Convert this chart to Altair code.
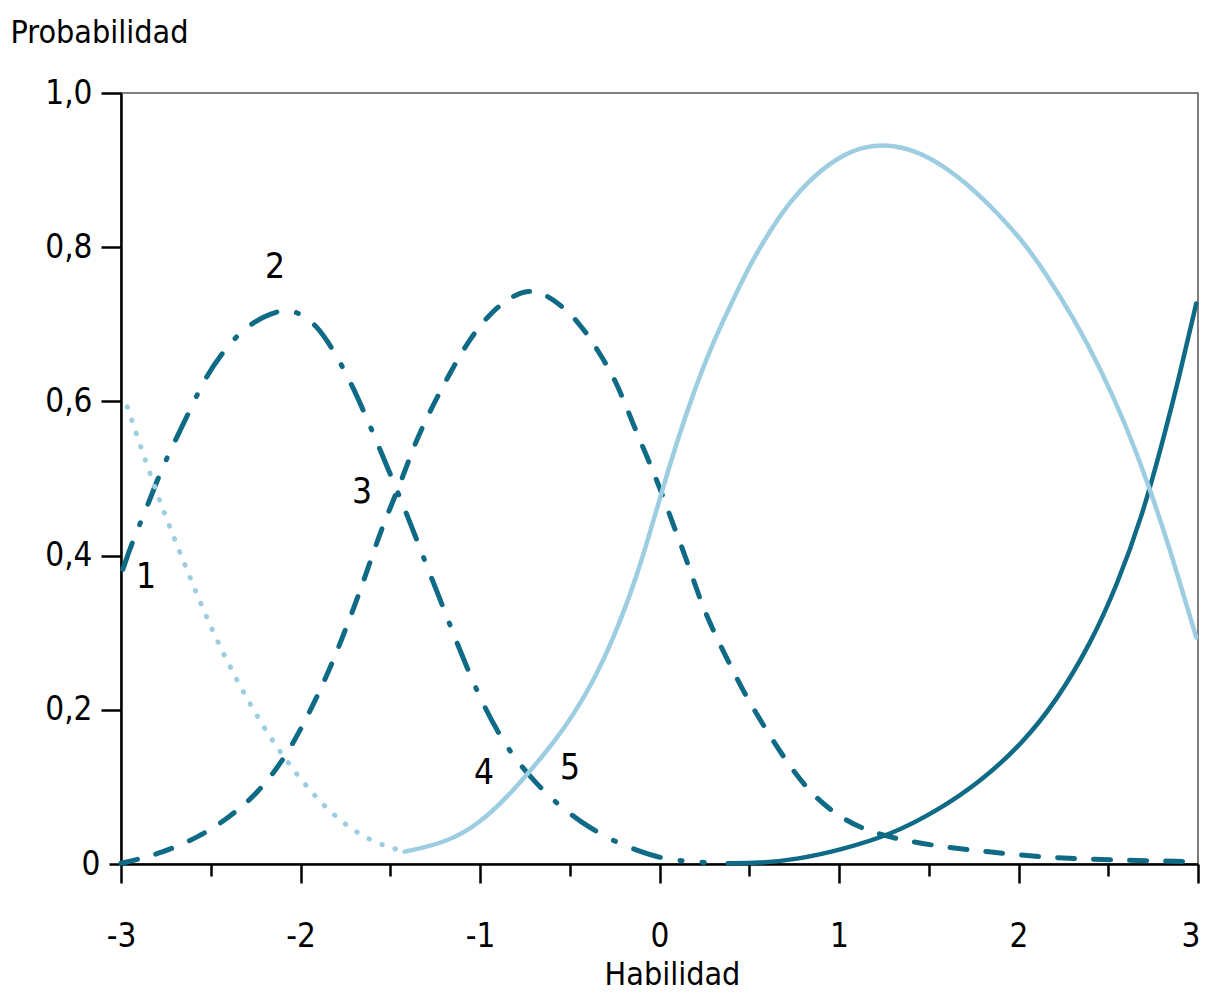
import altair as alt
import pandas as pd

FONT = "'DejaVu Sans Condensed', 'Liberation Sans Narrow', Roboto, sans-serif"
DARK = "#0f6a86"
LIGHT = "#9dcde0"

# Curve 1 (dotted, light)
c1_x = [-2.965, -2.86, -2.75, -2.63, -2.51, -2.37, -2.21, -2.03, -1.82, -1.62, -1.45]
c1_y = [0.593, 0.520, 0.449, 0.380, 0.312, 0.244, 0.178, 0.117, 0.062, 0.030, 0.018]

# Curve 2 (dash-dot, dark)
c2_x = [-2.99, -2.94, -2.86, -2.78, -2.70, -2.62, -2.53, -2.43, -2.32, -2.20, -2.10, -2.01,
        -1.91, -1.82, -1.72, -1.64, -1.57, -1.49, -1.41, -1.34, -1.26, -1.18, -1.11, -1.01,
        -0.90, -0.80, -0.70, -0.59, -0.44, -0.26, -0.13, 0.0, 0.12, 0.25]
c2_y = [0.382, 0.416, 0.460, 0.509, 0.548, 0.587, 0.631, 0.665, 0.694, 0.711, 0.719, 0.716,
        0.699, 0.668, 0.625, 0.583, 0.545, 0.500, 0.455, 0.413, 0.365, 0.318, 0.276, 0.220,
        0.170, 0.135, 0.108, 0.082, 0.054, 0.030, 0.018, 0.008, 0.004, 0.002]

# Curve 3 (dashed, dark)
c3_x = [-3.0, -2.81, -2.56, -2.39, -2.24, -2.085, -1.97, -1.85, -1.74, -1.64, -1.55, -1.45,
        -1.36, -1.26, -1.16, -1.05, -0.93, -0.80, -0.70, -0.59, -0.45, -0.34, -0.24, -0.15,
        -0.06, 0.0, 0.08, 0.16, 0.23, 0.31, 0.39, 0.48, 0.60, 0.71, 0.83, 0.98, 1.15, 1.35,
        1.58, 1.83, 2.11, 2.5, 3.0]
c3_y = [0.001, 0.011, 0.035, 0.062, 0.091, 0.138, 0.187, 0.245, 0.309, 0.372, 0.435, 0.489,
        0.548, 0.596, 0.640, 0.684, 0.718, 0.740, 0.745, 0.733, 0.704, 0.665, 0.626, 0.572,
        0.523, 0.489, 0.438, 0.389, 0.340, 0.297, 0.260, 0.218, 0.172, 0.132, 0.095, 0.064,
        0.043, 0.031, 0.022, 0.016, 0.009, 0.005, 0.003]

# Curve 4 (solid, light)
c4_x = [-1.42, -1.18, -0.99, -0.84, -0.72, -0.59, -0.47, -0.36, -0.26, -0.17, -0.09, 0.0,
        0.10, 0.195, 0.29, 0.39, 0.50, 0.62, 0.73, 0.87, 1.02, 1.15, 1.27, 1.42, 1.58, 1.73,
        1.88, 2.02, 2.15, 2.31, 2.46, 2.59, 2.73, 2.86, 2.99]
c4_y = [0.016, 0.028, 0.055, 0.089, 0.121, 0.157, 0.197, 0.241, 0.291, 0.345, 0.400, 0.473,
        0.550, 0.615, 0.672, 0.722, 0.776, 0.823, 0.860, 0.895, 0.920, 0.931, 0.933, 0.926,
        0.906, 0.879, 0.845, 0.809, 0.767, 0.707, 0.641, 0.574, 0.489, 0.396, 0.294]

# Curve 5 (solid, dark)
c5_x = [0.38, 0.55, 0.77, 1.02, 1.29, 1.54, 1.79, 2.02, 2.21, 2.40, 2.55, 2.69, 2.80, 2.90,
        2.99]
c5_y = [0.001, 0.001, 0.006, 0.019, 0.038, 0.068, 0.107, 0.156, 0.211, 0.285, 0.362, 0.452,
        0.545, 0.636, 0.727]

# Curve labels
lab_text = ["1", "2", "3", "4", "5"]
lab_x = [-2.861, -2.142, -1.657, -0.978, -0.499]
lab_y = [0.372, 0.774, 0.482, 0.118, 0.125]

x_major = [-3, -2, -1, 0, 1, 2, 3]
x_minor = [-2.5, -1.5, -0.5, 0.5, 1.5, 2.5]
y_ticks = [0, 0.2, 0.4, 0.6, 0.8, 1.0]


def frame(xs, ys):
    return pd.DataFrame({"x": xs, "y": ys})


xscale = alt.Scale(domain=[-3, 3], nice=False, zero=False)
yscale = alt.Scale(domain=[0, 1], nice=False, zero=False)

yaxis = alt.Axis(
    values=y_ticks,
    title="Probabilidad",
    titleAngle=0,
    titleAlign="left",
    titleBaseline="alphabetic",
    titleX=-111,
    titleY=-51,
    titleFontSize=32,
    titleFontWeight="normal",
    titleColor="black",
    labelFontSize=33,
    labelColor="black",
    labelPadding=9,
    labelExpr="datum.value == 0 ? '0' : replace(format(datum.value, '.1f'), '.', ',')",
    tickSize={"condition": {"test": "datum.value === 0", "value": 12}, "value": 20},
    tickColor="black",
    tickWidth=2.5,
    domainColor="black",
    domainWidth=2.5,
    grid=False,
)

xaxis_major = alt.Axis(
    values=x_major,
    orient="bottom",
    title="Habilidad",
    titleFontSize=32,
    titleFontWeight="normal",
    titleColor="black",
    titleX=551,
    titleY=120,
    titleAlign="center",
    titleBaseline="alphabetic",
    labelFontSize=33,
    labelColor="black",
    labelPadding=37,
    labelFlush=False,
    labelOverlap=False,
    labelAlign={"condition": {"test": "datum.value === 3", "value": "right"}, "value": "center"},
    labelOffset={"condition": {"test": "datum.value === 3", "value": 2}, "value": 0},
    labelExpr="'' + datum.value",
    tickSize=19,
    tickColor="black",
    tickWidth=2.5,
    domainColor="black",
    domainWidth=2.5,
    grid=False,
)

xaxis_minor = alt.Axis(
    values=x_minor,
    orient="bottom",
    title="",
    labels=False,
    domain=False,
    tickSize=12,
    tickColor="black",
    tickWidth=2.5,
    grid=False,
)


def line(xs, ys, color, width, dash=None, axis=None):
    kw = dict(color=color, strokeWidth=width, interpolate="basis", strokeCap="round")
    if dash is not None:
        kw["strokeDash"] = dash
    if axis is not None:
        xenc = alt.X("x:Q", scale=xscale, axis=axis)
    else:
        xenc = alt.X("x:Q", scale=xscale, axis=None)
    return alt.Chart(frame(xs, ys)).mark_line(**kw).encode(
        x=xenc,
        y=alt.Y("y:Q", scale=yscale, axis=yaxis),
    )


l3 = line(c3_x, c3_y, DARK, 5, [17, 19], axis=xaxis_major)
l2 = line(c2_x, c2_y, DARK, 5, [28, 20, 2, 20])
l5 = line(c5_x, c5_y, DARK, 4.5)
l4 = line(c4_x, c4_y, LIGHT, 4.5)
l1 = line(c1_x, c1_y, LIGHT, 5, [0.5, 13.5])

minor = alt.Chart(frame(c3_x, c3_y)).mark_line(opacity=0).encode(
    x=alt.X("x:Q", scale=xscale, axis=xaxis_minor),
    y=alt.Y("y:Q", scale=yscale, axis=yaxis),
)

labels = alt.Chart(pd.DataFrame({"x": lab_x, "y": lab_y, "t": lab_text})).mark_text(
    fontSize=35, color="black", align="center", baseline="middle"
).encode(
    x=alt.X("x:Q", scale=xscale, axis=None),
    y=alt.Y("y:Q", scale=yscale, axis=yaxis),
    text="t:N",
)

chart = alt.layer(l3, minor, l2, l5, l4, l1, labels).resolve_axis(x="independent").properties(
    width=1077,
    height=771,
    padding={"left": 113, "top": 85, "right": 3, "bottom": 129},
    autosize=alt.AutoSizeParams(type="none"),
    background="white",
).configure(font=FONT).configure_view(stroke="#555555", strokeWidth=1.5)

chart.save("out.html", embed_options={"renderer": "svg", "actions": False})
